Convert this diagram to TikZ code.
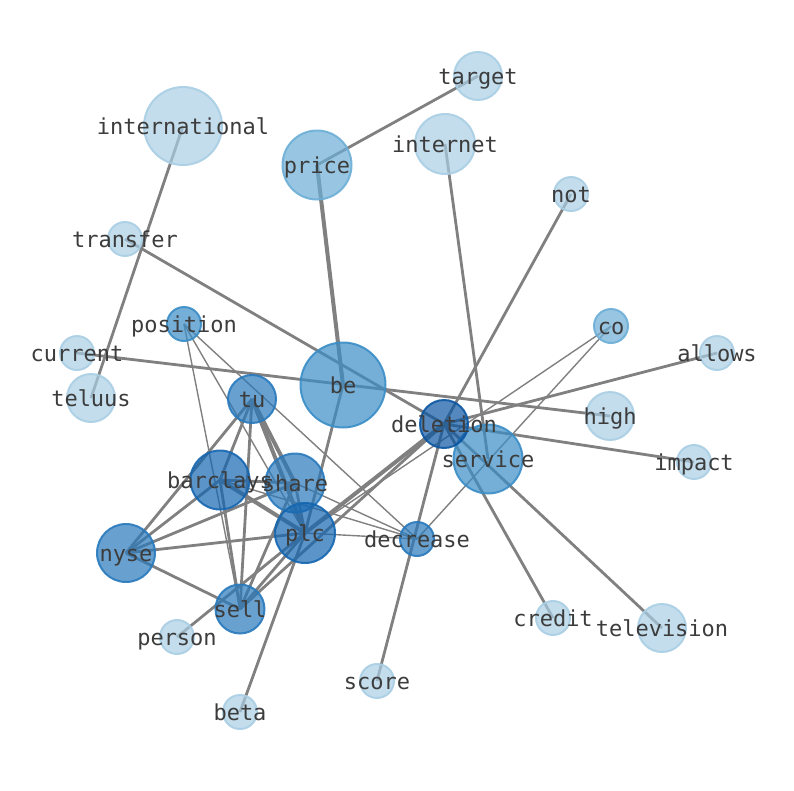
\documentclass[tikz,border=0pt]{standalone}
\usepackage{fontspec}
\setmonofont{DejaVu Sans Mono}
\usepackage{tikz}
\pgfdeclarelayer{bg}
\pgfsetlayers{bg,main}

\definecolor{blue1}{RGB}{169,206,228}
\definecolor{blue2}{RGB}{108,174,214}
\definecolor{blue3}{RGB}{58,141,198}
\definecolor{blue4}{RGB}{40,121,188}
\definecolor{blue5}{RGB}{21,102,176}
\definecolor{blue6}{RGB}{11,86,162}
\definecolor{ink}{RGB}{60,60,60}

\begin{document}
\begin{tikzpicture}[
  x=1pt, y=-1pt,
  word/.style={font=\ttfamily\fontsize{22pt}{24pt}\selectfont,text=ink,text opacity=1,inner sep=0pt,text height=20pt,text depth=3pt},
  dot/.style={circle,inner sep=0pt,line width=2pt,fill=#1,draw=#1,fill opacity=0.7,draw opacity=0.9},
  lnk/.style={gray,line width=2.8pt},
  heavy/.style={gray,line width=4pt},
  faint/.style={gray,line width=1.4pt}
]
\useasboundingbox (0,0) rectangle (794,790);

\node[dot=blue1, minimum size=48pt, label={[word]center:target}] (target) at (478,76) {};
\node[dot=blue1, minimum size=78pt, label={[word]center:international}] (international) at (183,126) {};
\node[dot=blue2, minimum size=69pt, label={[word]center:price}] (price) at (317,165) {};
\node[dot=blue1, minimum size=60pt, label={[word]center:internet}] (internet) at (445,144) {};
\node[dot=blue1, minimum size=34pt, label={[word]center:not}] (not) at (571,194) {};
\node[dot=blue1, minimum size=34pt, label={[word]center:transfer}] (transfer) at (125,239) {};
\node[dot=blue3, minimum size=34pt, label={[word]center:position}] (position) at (184,324) {};
\node[dot=blue2, minimum size=34pt, label={[word]center:co}] (co) at (611,326) {};
\node[dot=blue1, minimum size=34pt, label={[word]center:current}] (current) at (77,353) {};
\node[dot=blue1, minimum size=34pt, label={[word]center:allows}] (allows) at (717,353) {};
\node[dot=blue3, minimum size=85pt, label={[word]center:be}] (be) at (343,385) {};
\node[dot=blue1, minimum size=48pt, label={[word]center:teluus}] (teluus) at (91,398) {};
\node[dot=blue4, minimum size=48pt, label={[word]center:tu}] (tu) at (252,399) {};
\node[dot=blue1, minimum size=48pt, label={[word]center:high}] (high) at (610,416) {};
\node[dot=blue3, minimum size=69pt, label={[word]center:service}] (service) at (488,459) {};
\node[dot=blue6, minimum size=48pt, label={[word]center:deletion}] (deletion) at (444,424) {};
\node[dot=blue1, minimum size=34pt, label={[word]center:impact}] (impact) at (694,462) {};
\node[dot=blue4, minimum size=59pt, label={[word]center:share}] (share) at (295,483) {};
\node[dot=blue5, minimum size=59pt, label={[word]center:barclays}] (barclays) at (220,480) {};
\node[dot=blue5, minimum size=60pt, label={[word]center:plc}] (plc) at (305,533) {};
\node[dot=blue4, minimum size=34pt, label={[word]center:decrease}] (decrease) at (417,539) {};
\node[dot=blue4, minimum size=58pt, label={[word]center:nyse}] (nyse) at (126,553) {};
\node[dot=blue4, minimum size=49pt, label={[word]center:sell}] (sell) at (240,609) {};
\node[dot=blue1, minimum size=34pt, label={[word]center:credit}] (credit) at (553,618) {};
\node[dot=blue1, minimum size=48pt, label={[word]center:television}] (television) at (662,628) {};
\node[dot=blue1, minimum size=34pt, label={[word]center:person}] (person) at (177,637) {};
\node[dot=blue1, minimum size=34pt, label={[word]center:score}] (score) at (377,681) {};
\node[dot=blue1, minimum size=34pt, label={[word]center:beta}] (beta) at (240,712) {};

\begin{pgfonlayer}{bg}
\draw[lnk] (target.center) -- (price.center);
\draw[heavy] (price.center) -- (be.center);
\draw[lnk] (international.center) -- (teluus.center);
\draw[lnk] (internet.center) -- (service.center);
\draw[lnk] (not.center) -- (deletion.center);
\draw[lnk] (transfer.center) -- (deletion.center);
\draw[lnk] (current.center) -- (high.center);
\draw[faint] (co.center) -- (plc.center);
\draw[faint] (co.center) -- (decrease.center);
\draw[lnk] (allows.center) -- (deletion.center);
\draw[lnk] (impact.center) -- (deletion.center);
\draw[heavy] (deletion.center) -- (plc.center);
\draw[lnk] (deletion.center) -- (sell.center);
\draw[lnk] (deletion.center) -- (score.center);
\draw[lnk] (deletion.center) -- (credit.center);
\draw[lnk] (deletion.center) -- (television.center);
\draw[lnk] (be.center) -- (plc.center);
\draw[faint] (position.center) -- (sell.center);
\draw[faint] (position.center) -- (plc.center);
\draw[faint] (position.center) -- (decrease.center);
\draw[lnk] (tu.center) -- (nyse.center);
\draw[lnk] (tu.center) -- (barclays.center);
\draw[lnk] (tu.center) -- (sell.center);
\draw[heavy] (tu.center) -- (share.center);
\draw[heavy] (tu.center) -- (plc.center);
\draw[lnk] (barclays.center) -- (nyse.center);
\draw[lnk] (barclays.center) -- (share.center);
\draw[heavy] (barclays.center) -- (plc.center);
\draw[lnk] (barclays.center) -- (sell.center);
\draw[faint] (barclays.center) -- (decrease.center);
\draw[lnk] (share.center) -- (nyse.center);
\draw[lnk] (share.center) -- (plc.center);
\draw[lnk] (share.center) -- (sell.center);
\draw[faint] (share.center) -- (decrease.center);
\draw[lnk] (nyse.center) -- (plc.center);
\draw[lnk] (nyse.center) -- (sell.center);
\draw[lnk] (plc.center) -- (sell.center);
\draw[lnk] (plc.center) -- (beta.center);
\draw[faint] (plc.center) -- (decrease.center);
\draw[lnk] (plc.center) -- (person.center);
\end{pgfonlayer}
\end{tikzpicture}
\end{document}
